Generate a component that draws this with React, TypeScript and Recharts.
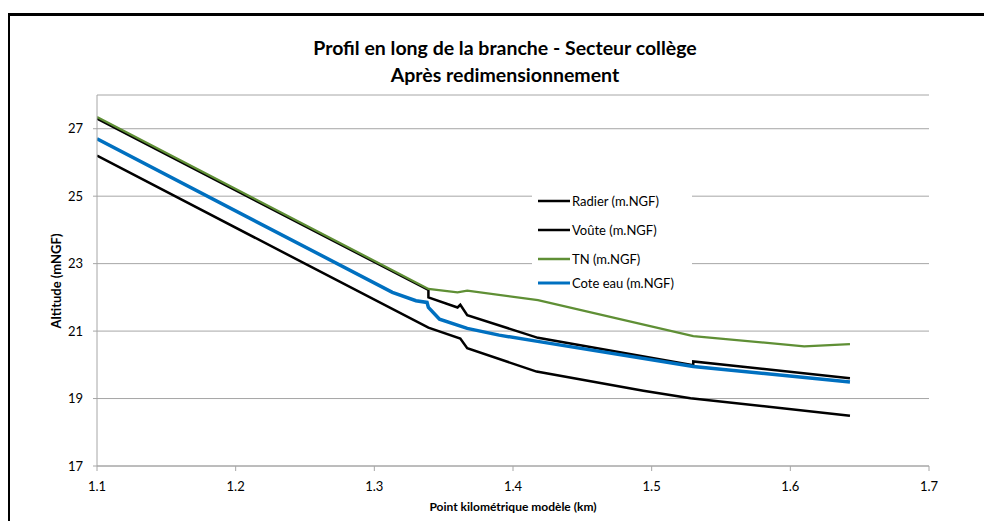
import React from 'react';
import { LineChart, Line, XAxis, YAxis, CartesianGrid, Legend } from 'recharts';

const titleLines = ['Profil en long de la branche - Secteur collège', 'Après redimensionnement'];
const xTitle = 'Point kilométrique modèle (km)';
const yTitle = 'Altitude (mNGF)';

const xTicks = [1.1, 1.2, 1.3, 1.4, 1.5, 1.6, 1.7];
const yTicks = [17, 19, 21, 23, 25, 27];

const radierX = [1.1, 1.339, 1.362, 1.367, 1.417, 1.494, 1.528, 1.643];
const radierY = [26.2, 21.1, 20.78, 20.49, 19.8, 19.23, 19.01, 18.49];

const vouteX = [1.1, 1.339, 1.339, 1.36, 1.362, 1.367, 1.418, 1.53, 1.53, 1.643];
const vouteY = [27.3, 22.22, 22.0, 21.7, 21.78, 21.47, 20.8, 19.99, 20.1, 19.6];

const tnX = [1.1, 1.339, 1.36, 1.367, 1.418, 1.53, 1.61, 1.643];
const tnY = [27.35, 22.25, 22.15, 22.2, 21.92, 20.85, 20.55, 20.61];

const eauX = [1.1, 1.313, 1.33, 1.338, 1.339, 1.347, 1.367, 1.39, 1.42, 1.53, 1.643];
const eauY = [26.7, 22.15, 21.9, 21.85, 21.7, 21.35, 21.08, 20.88, 20.68, 19.95, 19.49];

const toData = (xs: number[], ys: number[]) => xs.map((x, i) => ({ x, y: ys[i] }));

const series = [
  { name: 'Radier (m.NGF)', data: toData(radierX, radierY), color: '#000000', width: 2.5 },
  { name: 'Voûte (m.NGF)', data: toData(vouteX, vouteY), color: '#000000', width: 2.5 },
  { name: 'TN (m.NGF)', data: toData(tnX, tnY), color: '#5f8f35', width: 2.25 },
  { name: 'Cote eau (m.NGF)', data: toData(eauX, eauY), color: '#0070C0', width: 3.5 },
];

const FONT = 'Lato, "Open Sans", sans-serif';
const GRID = '#a6a6a6';

const LegendContent = () => {
  return (
    <div style={{ background: '#fff', width: 160, paddingTop: 3, fontFamily: FONT }}>
      {series.map((s, i) => (
        <div key={s.name} style={{ display: 'flex', alignItems: 'center', height: i === series.length - 1 ? 20 : 29 }}>
          <svg width={40} height={6} style={{ flex: 'none' }}>
            <line x1={6} x2={38} y1={3} y2={3} stroke={s.color} strokeWidth={i === 3 ? 3 : 2.5} />
          </svg>
          <span style={{ fontSize: 13, color: '#000', whiteSpace: 'nowrap' }}>{s.name}</span>
        </div>
      ))}
    </div>
  );
};

const overlay = (cx: number, cy: number, extra: React.CSSProperties = {}): React.CSSProperties => ({
  position: 'absolute',
  left: cx,
  top: cy,
  transform: 'translate(-50%, -50%)',
  whiteSpace: 'nowrap',
  lineHeight: 1,
  fontFamily: FONT,
  color: '#000',
  ...extra,
});

export default function App() {
  return (
    <div style={{ position: 'relative', width: 984, height: 513 }}>
      <style>{`body{overflow:hidden}`}</style>
      <div
        style={{
          position: 'absolute',
          left: 0,
          top: 5,
          right: -20,
          bottom: -20,
          borderLeft: '2px solid #000',
          borderTop: '3px solid #000',
        }}
      />
      <div style={{ position: 'absolute', left: 0, top: 0 }}>
        <LineChart
          width={984}
          height={513}
          margin={{ top: 87, right: 63, left: 29, bottom: 15 }}
          style={{ fontFamily: FONT }}
        >
          <CartesianGrid horizontal vertical={false} stroke={GRID} strokeWidth={1} />
          <XAxis
            type="number"
            dataKey="x"
            domain={[1.1, 1.7]}
            ticks={xTicks}
            allowDataOverflow
            tickFormatter={(v: number) => v.toFixed(1)}
            height={40}
            tickSize={5}
            tickMargin={11}
            stroke={GRID}
            tick={{ fill: '#000', fontSize: 13, fontFamily: FONT }}
            interval={0}
          />
          <YAxis
            type="number"
            dataKey="y"
            domain={[17, 28]}
            ticks={yTicks}
            allowDataOverflow
            width={60}
            tickSize={4}
            tickMargin={10}
            stroke={GRID}
            tick={{ fill: '#000', fontSize: 13, fontFamily: FONT }}
            interval={0}
          />
          <Legend
            layout="vertical"
            align="center"
            verticalAlign="middle"
            content={<LegendContent />}
            wrapperStyle={{ position: 'absolute', left: 524, top: 175, width: 160, height: 'auto' }}
          />
          {series.map((s) => (
            <Line
              key={s.name}
              data={s.data}
              dataKey="y"
              name={s.name}
              type="linear"
              stroke={s.color}
              strokeWidth={s.width}
              dot={false}
              activeDot={false}
              isAnimationActive={false}
              legendType="line"
            />
          ))}
        </LineChart>
      </div>
      <div style={overlay(497, 40, { fontSize: 19.5, fontWeight: 700 })}>{titleLines[0]}</div>
      <div style={overlay(497, 67, { fontSize: 19.5, fontWeight: 700 })}>{titleLines[1]}</div>
      <div style={overlay(505, 499, { fontSize: 12, fontWeight: 700 })}>{xTitle}</div>
      <div style={overlay(48, 273, { fontSize: 13, fontWeight: 700, transform: 'translate(-50%, -50%) rotate(-90deg)' })}>{yTitle}</div>
    </div>
  );
}
